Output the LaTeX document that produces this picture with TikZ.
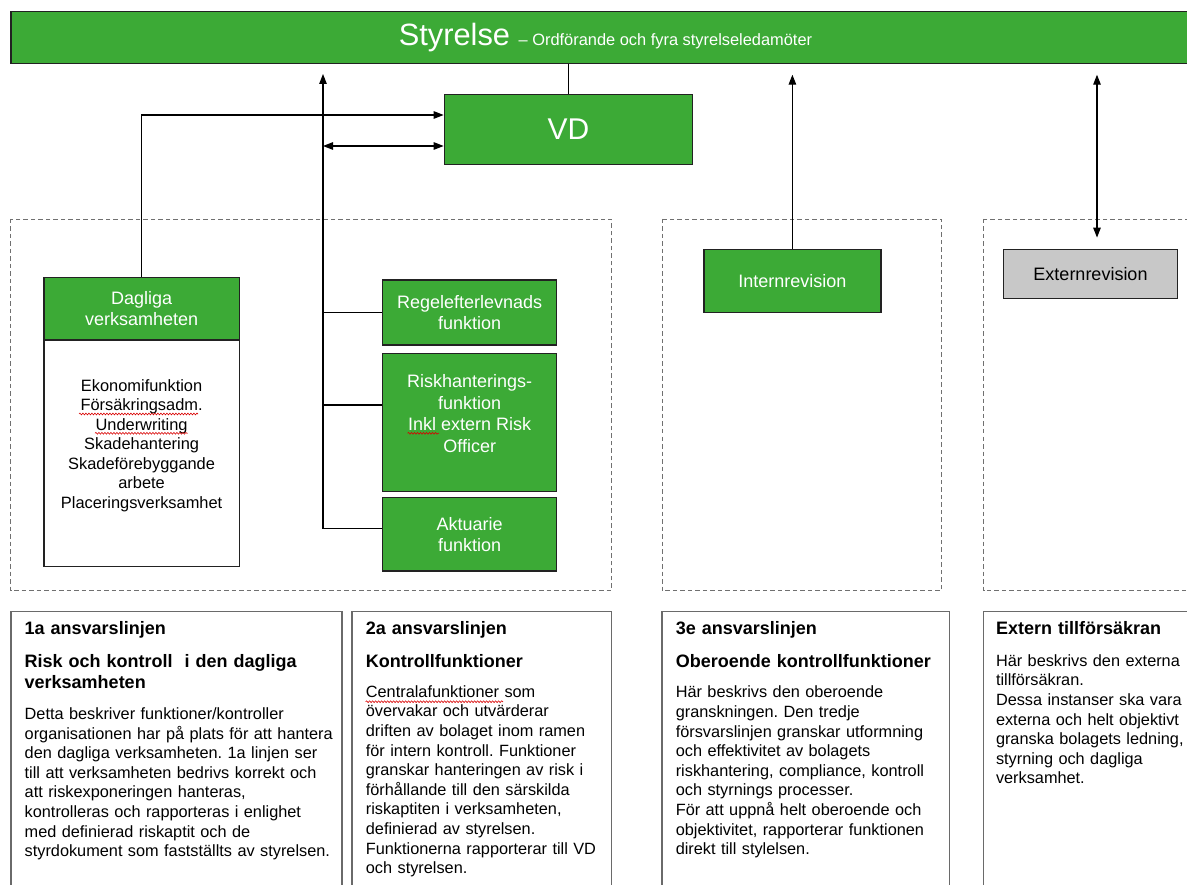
\documentclass[tikz,border=0pt]{standalone}
\usepackage{fontspec}
\setmainfont{Liberation Sans}
\usetikzlibrary{arrows.meta,decorations.pathmorphing,calc}
\definecolor{gr}{HTML}{3CAA36}
\definecolor{edgec}{HTML}{222222}
\definecolor{dashc}{HTML}{707070}
\definecolor{panelc}{HTML}{6A6A6A}
\definecolor{ggray}{HTML}{C8C8C8}
\frenchspacing
\begin{document}
\begin{tikzpicture}[x=1pt,y=-1pt,
  gbox/.style={draw=edgec,line width=1.4pt,fill=gr,text=white,inner sep=0pt,align=center,font=\fontsize{18}{21}\selectfont},
  wbox/.style={draw=edgec,line width=1.4pt,fill=white,inner sep=0pt},
  graybox/.style={draw=edgec,line width=1.4pt,fill=ggray,text=black,inner sep=0pt,align=center,font=\fontsize{18}{21}\selectfont},
  dashbox/.style={draw=dashc,line width=0.9pt,dash pattern=on 4.5pt off 3pt},
  panel/.style={draw=panelc,line width=1.1pt},
  conn/.style={draw=black,line width=1.2pt},
  arr/.style={conn,-{Triangle[length=10pt,width=7.5pt]}},
  darr/.style={conn,{Triangle[length=10pt,width=7.5pt]}-{Triangle[length=10pt,width=7.5pt]}},
  ptext/.style={anchor=base west,inner sep=0pt,text width=400pt,align=left,font=\fontsize{16.3}{19.6}\selectfont},
  phead/.style={anchor=base west,inner sep=0pt,text width=400pt,align=left,font=\bfseries\fontsize{18}{20.7}\selectfont},
  wavy/.style={draw=red!85!black,line width=0.6pt,decorate,decoration={snake,amplitude=0.9pt,segment length=3pt}}
]
\clip (0,0) rectangle (1187,885);
\fill[white] (0,0) rectangle (1187,885);

% dashed group frames
\draw[dashbox] (10.7,219) rectangle (611.2,590.7);
\draw[dashbox] (662.1,219) rectangle (941.4,590.7);
\draw[dashbox] (983.5,219) rectangle (1210,590.7);

% top bar
\node[gbox,minimum width=1189pt,minimum height=52pt] (bar) at (605.5,37.7)
  {\fontsize{30.8}{34}\selectfont Styrelse \fontsize{16.4}{19}\selectfont – Ordförande och fyra styrelseledamöter};

% VD
\node[gbox,minimum width=248.3pt,minimum height=70pt,font=\fontsize{30}{34}\selectfont] (vd) at (568.5,129.3) {VD};

% Dagliga
\node[gbox,minimum width=195.2pt,minimum height=62.3pt] (dagh) at (141.6,308.8) {Dagliga\\verksamheten};
\node[wbox,minimum width=195.2pt,minimum height=226.7pt] (dagb) at (141.6,453.3) {};
\node[inner sep=0pt,align=center,font=\fontsize{16.4}{19.55}\selectfont] (dagt) at (141.6,445.5)
  {Ekonomifunktion\\Försäkringsadm.\\Underwriting\\Skadehantering\\Skadeförebyggande\\arbete\\Placeringsverksamhet};

% second line functions
\node[gbox,minimum width=174.1pt,minimum height=65pt] (regel) at (469.7,312.5) {Regelefterlevnads\\funktion};
\node[gbox,minimum width=174.1pt,minimum height=138.4pt] (risk) at (469.7,422.5) {};
\node[inner sep=0pt,align=center,text=white,font=\fontsize{18}{21.7}\selectfont] (riskt) at (469.7,413.5)
  {Riskhanterings-\\funktion\\Inkl extern Risk\\Officer};
\node[gbox,minimum width=174.1pt,minimum height=73.3pt] (akt) at (469.7,534.3) {Aktuarie\\funktion};

% third line / external
\node[gbox,minimum width=176.8pt,minimum height=62.6pt] (intern) at (792.4,281) {Internrevision};
\node[graybox,minimum width=174.5pt,minimum height=48.6pt] (extern) at (1090.5,274) {Externrevision};

% connectors
\coordinate (spT) at (323,74);
\coordinate (vdA) at ([yshift=14.3pt]vd.west);
\coordinate (vdB) at ([yshift=-16.7pt]vd.west);
\coordinate (exT) at ([xshift=6.5pt]extern.north);
\draw[conn] (vd.north) -- (vd.north |- bar.south);
\draw[arr] (dagh.north) |- (vdA);
\draw[arr] ([yshift=6pt]akt.west) -| (spT);
\draw[conn] (regel.west) -- (regel.west -| spT);
\draw[conn] ([yshift=17.5pt]risk.west) -- ([yshift=17.5pt]risk.west -| spT);
\draw[darr] (spT |- vdB) -- (vdB);
\draw[arr,shorten >=10.3pt] (intern.north) -- (intern.north |- bar.south);
\draw[darr,shorten <=10.3pt,shorten >=11.4pt] (exT |- bar.south) -- (exT);

% bottom panels
\draw[panel] (11,611.7) rectangle (342,900);
\draw[panel] (352,611.7) rectangle (611.7,900);
\draw[panel] (662,611.7) rectangle (949.4,900);
\draw[panel] (983.6,611.7) rectangle (1210,900);

\node[phead] (h1a) at (24.5,634.3) {1a ansvarslinjen};
\node[phead] (h1b) at (24.5,667.7) {Risk och kontroll~ i den dagliga\\verksamheten};
\node[ptext] (t1) at (24.5,719.5) {Detta beskriver funktioner/kontroller\\
organisationen har på plats för att hantera\\
den dagliga verksamheten. 1a linjen ser\\
till att verksamheten bedrivs korrekt och\\
att riskexponeringen hanteras,\\
kontrolleras och rapporteras i enlighet\\
med definierad riskaptit och de\\
styrdokument som fastställts av styrelsen.};

\node[phead] (h2a) at (365.7,634.3) {2a ansvarslinjen};
\node[phead] (h2b) at (365.7,667.7) {Kontrollfunktioner};
\node[ptext] (t2) at (365.7,697.2) {Centralafunktioner som\\
övervakar och utvärderar\\
driften av bolaget inom ramen\\
för intern kontroll. Funktioner\\
granskar hanteringen av risk i\\
förhållande till den särskilda\\
riskaptiten i verksamheten,\\
definierad av styrelsen.\\
Funktionerna rapporterar till VD\\
och styrelsen.};

\node[phead] (h3a) at (675.6,634.3) {3e ansvarslinjen};
\node[phead] (h3b) at (675.6,667.7) {Oberoende kontrollfunktioner};
\node[ptext] (t3) at (675.6,697.8) {Här beskrivs den oberoende\\
granskningen. Den tredje\\
försvarslinjen granskar utformning\\
och effektivitet av bolagets\\
riskhantering, compliance, kontroll\\
och styrnings processer.\\
För att uppnå helt oberoende och\\
objektivitet, rapporterar funktionen\\
direkt till stylelsen.};

\node[phead] (h4a) at (995.8,634.3) {Extern tillförsäkran};
\node[ptext] (t4) at (995.8,666.2) {Här beskrivs den externa\\
tillförsäkran.\\
Dessa instanser ska vara\\
externa och helt objektivt\\
granska bolagets ledning,\\
styrning och dagliga\\
verksamhet.};

% spell-check marks
\draw[wavy] (79,414) -- (198,414);
\draw[wavy] (95,433.3) -- (187.5,433.3);
\draw[wavy] (407.6,433.3) -- (439,433.3);
\draw[wavy] (365.7,701.7) -- (503,701.7);
\end{tikzpicture}
\end{document}
